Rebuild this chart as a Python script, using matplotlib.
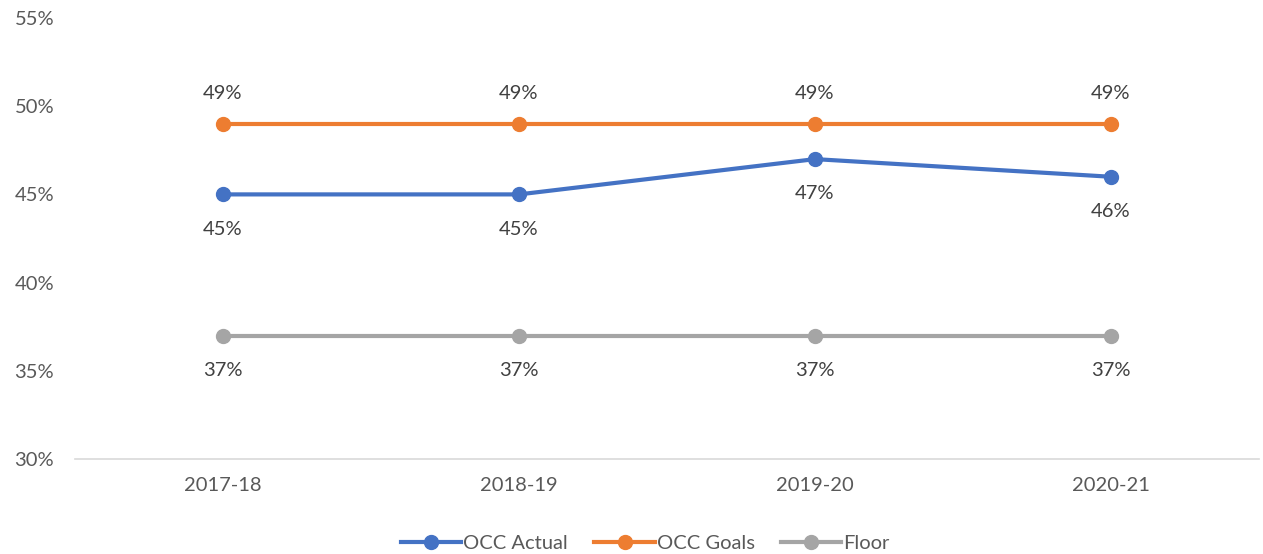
import matplotlib.pyplot as plt

plt.rcParams['font.family'] = ['Lato', 'DejaVu Sans']

years = ["2017-18", "2018-19", "2019-20", "2020-21"]
occ_actual = [45, 45, 47, 46]
occ_goals = [49, 49, 49, 49]
floor = [37, 37, 37, 37]

series = [
    ("OCC Actual", occ_actual, "#4472C4", -1),
    ("OCC Goals", occ_goals, "#ED7D31", 1),
    ("Floor", floor, "#A5A5A5", -1),
]

fig = plt.figure(figsize=(12.63, 5.54), dpi=100)
ax = fig.add_axes([75 / 1263, 95 / 554, 1184 / 1263, 441 / 554])

x = range(len(years))
for name, vals, col, side in series:
    ax.plot(x, vals, color=col, lw=3, marker="o", markersize=10, label=name)
    for xi, v in zip(x, vals):
        off = 22 if side > 0 else -25
        ax.annotate(f"{v}%", (xi, v), xytext=(0, off), textcoords="offset points",
                    ha="center", va="center", fontsize=14.5, color="#404040")

ax.set_xlim(-0.5, 3.5)
ax.set_ylim(30, 55)
ax.set_yticks(range(30, 56, 5))
ax.set_yticklabels([f"{t}%" for t in range(30, 56, 5)])
ax.set_xticks(list(x))
ax.set_xticklabels(years)
ax.tick_params(axis="both", length=0, labelsize=14.5, labelcolor="#595959")
ax.tick_params(axis="y", pad=15)
ax.tick_params(axis="x", pad=13)
for s in ["top", "right", "left"]:
    ax.spines[s].set_visible(False)
ax.spines["bottom"].set_color("#D9D9D9")
ax.spines["bottom"].set_linewidth(1.2)

leg = fig.legend(loc="lower center", bbox_to_anchor=(0.511, -0.03), ncol=3, frameon=False,
                 fontsize=14.5, handlelength=3.0, columnspacing=1.3, handletextpad=0.1)
for t in leg.get_texts():
    t.set_color("#595959")

fig.savefig("out.png", dpi=100)
